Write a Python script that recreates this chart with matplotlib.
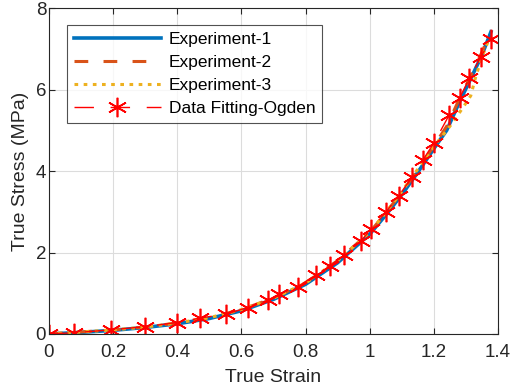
import matplotlib
matplotlib.use("Agg")
import matplotlib.pyplot as plt

# experiment curves (true strain, true stress in MPa)
exp1_strain = [0, 0.1, 0.2, 0.3, 0.4, 0.5, 0.6, 0.7, 0.8, 0.9, 1.0, 1.05, 1.1, 1.15, 1.2, 1.24, 1.28, 1.32, 1.35, 1.378]
exp1_stress = [0, 0.04, 0.09, 0.16, 0.25, 0.38, 0.57, 0.85, 1.22, 1.75, 2.45, 2.92, 3.42, 3.97, 4.55, 5.0, 5.7, 6.35, 6.85, 7.42]

exp2_strain = [0, 0.1, 0.2, 0.3, 0.4, 0.5, 0.6, 0.7, 0.8, 0.9, 1.0, 1.05, 1.1, 1.15, 1.2, 1.24, 1.28, 1.32, 1.35, 1.375]
exp2_stress = [0, 0.05, 0.1, 0.17, 0.27, 0.4, 0.6, 0.88, 1.26, 1.8, 2.5, 2.97, 3.48, 4.03, 4.62, 5.1, 5.78, 6.42, 6.92, 7.38]

exp3_strain = [0, 0.1, 0.2, 0.3, 0.4, 0.5, 0.6, 0.7, 0.8, 0.9, 1.0, 1.05, 1.1, 1.15, 1.2, 1.25, 1.29, 1.315, 1.33, 1.35, 1.37]
exp3_stress = [0, 0.05, 0.1, 0.17, 0.27, 0.4, 0.6, 0.88, 1.25, 1.8, 2.5, 2.98, 3.5, 4.05, 4.6, 5.1, 5.55, 5.85, 6.3, 6.8, 7.2]

# Ogden fit points
fit_strain = [0, 0.078, 0.192, 0.299, 0.398, 0.47, 0.553, 0.62, 0.682, 0.718, 0.775, 0.833, 0.876,
              0.921, 0.973, 1.004, 1.051, 1.09, 1.133, 1.165, 1.201, 1.248, 1.28, 1.311, 1.347, 1.378]
fit_stress = [0, 0.03, 0.1, 0.18, 0.28, 0.39, 0.49, 0.65, 0.83, 0.98, 1.16, 1.45, 1.67,
              1.94, 2.29, 2.57, 3.0, 3.39, 3.86, 4.26, 4.7, 5.38, 5.79, 6.28, 6.81, 7.23]

plt.rcParams['font.family'] = ['Liberation Sans', 'DejaVu Sans']

fig = plt.figure(figsize=(5.12, 3.87), dpi=100)
ax = fig.add_axes([0.0957, 0.137, 0.877, 0.842])

ax.plot(exp1_strain, exp1_stress, color='#0072BD', lw=2.6, label='Experiment-1')
ax.plot(exp2_strain, exp2_stress, color='#D95319', lw=2.2, ls=(0, (4.5, 5)), label='Experiment-2')
ax.plot(exp3_strain, exp3_stress, color='#EDB120', lw=2.2, ls=(0, (1.2, 1.8)), label='Experiment-3')
# asterisk markers for the fit
ax.plot(fit_strain, fit_stress, color='red', lw=1.0, ls=(0, (14, 12)), marker=(6, 2, 0), ms=14, mew=1.2,
        markeredgecolor='red', label='Data Fitting-Ogden')

ax.set_xlim(0, 1.4)
ax.set_ylim(0, 8)
ax.set_xticks([0, 0.2, 0.4, 0.6, 0.8, 1, 1.2, 1.4])
ax.set_xticklabels(['0', '0.2', '0.4', '0.6', '0.8', '1', '1.2', '1.4'])
ax.set_yticks([0, 2, 4, 6, 8])
ax.grid(True, color='#dcdcdc', lw=0.8)
ax.set_axisbelow(True)
ax.tick_params(direction='in', top=True, right=True, labelsize=13.5, colors='#262626', length=4, pad=7)
ax.tick_params(axis='y', pad=2)
for s in ax.spines.values():
    s.set_color('#262626')
    s.set_linewidth(0.8)

ax.set_xlabel('True Strain', fontsize=14, color='#262626', labelpad=6)
ax.set_ylabel('True Stress (MPa)', fontsize=14, color='#262626', labelpad=5)

leg = ax.legend(loc='upper left', bbox_to_anchor=(0.04, 0.948), fontsize=12.5, handlelength=5.0,
                frameon=True, fancybox=False, edgecolor='#262626', borderpad=0.4,
                labelspacing=0.45, handletextpad=0.45, borderaxespad=0)
leg.get_frame().set_linewidth(0.8)

fig.savefig('out.png', dpi=100)
